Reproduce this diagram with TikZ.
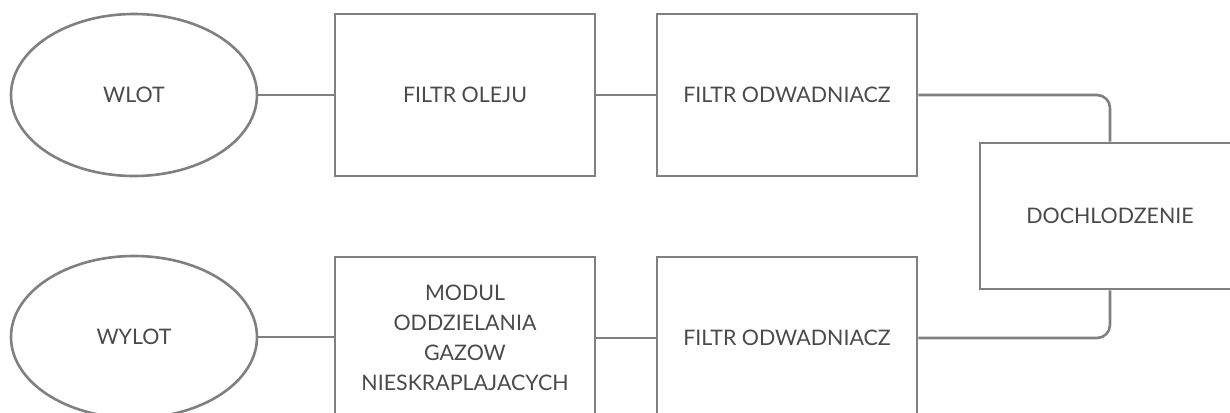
\documentclass[tikz,border=0pt]{standalone}
\usepackage{fontspec}
\setmainfont{Lato}
\usetikzlibrary{shapes.geometric}
\definecolor{linec}{HTML}{808080}
\definecolor{textc}{HTML}{4A4A4A}
\tikzset{
  base/.style={draw=linec, line width=2.6pt, text=textc, font=\fontsize{21.4}{30}\selectfont, align=center, inner sep=0pt},
  oval/.style={base, ellipse, minimum width=246pt, minimum height=162pt},
  block/.style={base, rectangle, minimum width=260pt, minimum height=162pt},
  link/.style={draw=linec, line width=2.6pt, rounded corners=13pt}
}
\begin{document}
\begin{tikzpicture}[x=1pt,y=-1pt]
\useasboundingbox (0,0) rectangle (1230,412);
\clip (0,0) rectangle (1230,412);
\node[oval]  (wlot)  at (134,95)  {WLOT};
\node[block] (olej)  at (465,95)  {FILTR OLEJU};
\node[block] (odw1)  at (787,95)  {FILTR ODWADNIACZ};
\node[block, minimum height=146pt] (doch) at (1110,216) {DOCHLODZENIE};
\node[oval]  (wylot) at (134,337) {WYLOT};
\node[block] (modul) at (465,338) {MODUL\\ODDZIELANIA\\GAZOW\\NIESKRAPLAJACYCH};
\node[block] (odw2)  at (787,338) {FILTR ODWADNIACZ};
\draw[link] (wlot.east) -- (olej.west |- wlot.east);
\draw[link] (olej.east) -- (odw1.west |- olej.east);
\draw[link] (odw1.east) -- (odw1.east -| doch.north) -- (doch.north);
\draw[link] (doch.south) -- (doch.south |- odw2.east) -- (odw2.east);
\draw[link] (wylot.east) -- (modul.west |- wylot.east);
\draw[link] (modul.east) -- (odw2.west |- modul.east);
\end{tikzpicture}
\end{document}
